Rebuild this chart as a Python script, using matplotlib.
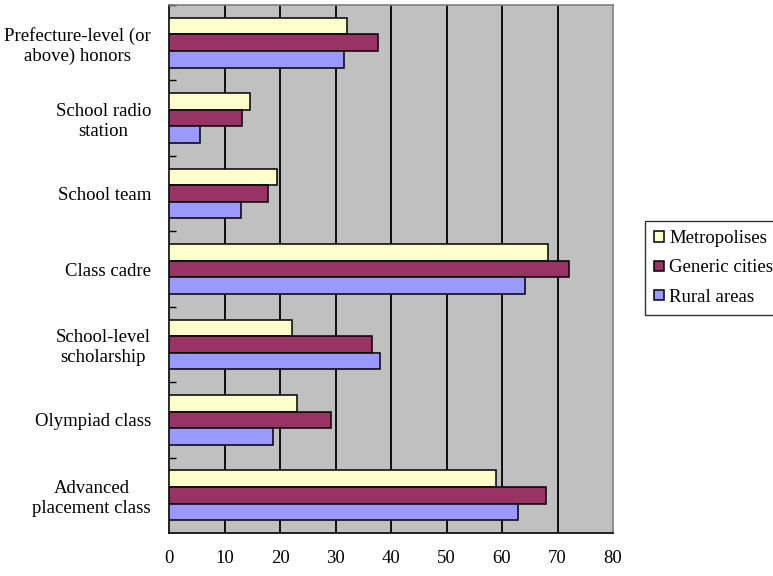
import numpy as np
import matplotlib
matplotlib.use('Agg')
import matplotlib.pyplot as plt

plt.rcParams['font.family'] = ['Liberation Serif', 'DejaVu Serif']

### data (percent)
categories = ['Prefecture-level (or\nabove) honors', 'School radio\nstation', 'School team',
              'Class cadre', 'School-level\nscholarship', 'Olympiad class',
              'Advanced\nplacement class']
metropolises = [32.0, 14.6, 19.5, 68.2, 22.2, 23.0, 58.9]
generic_cities = [37.7, 13.2, 17.8, 72.0, 36.5, 29.1, 67.9]
rural_areas = [31.6, 5.5, 12.9, 64.2, 38.0, 18.7, 62.8]
series_names = ['Metropolises', 'Generic cities', 'Rural areas']
xticks = [0, 10, 20, 30, 40, 50, 60, 70, 80]

colors = ['#FFFFCC', '#993366', '#9999FF']
fs = 13.5

fig = plt.figure(figsize=(7.73, 5.76), dpi=100)
ax = fig.add_axes([169/773, 43/576, 444/773, 528/576])
ax.set_facecolor('#C0C0C0')

n = len(categories)
y = np.arange(n)[::-1]   # first category on top
h = 0.22

for i, (vals, name) in enumerate(zip([metropolises, generic_cities, rural_areas], series_names)):
    ax.barh(y + (1 - i)*h, vals, height=h, color=colors[i], edgecolor='black',
            linewidth=1.1, label=name, zorder=3)

# vertical gridlines
for xv in xticks[1:-1]:
    ax.axvline(xv, color='black', linewidth=1.3, zorder=1)

ax.set_xlim(0, 80)
ax.set_ylim(-0.5, n - 0.5)
ax.set_xticks(xticks)
ax.tick_params(axis='x', length=0, pad=12.5, labelsize=fs)

ax.set_yticks(y)
ax.set_yticklabels(categories, multialignment='center')
ax.tick_params(axis='y', which='major', length=0, pad=13, labelsize=fs)
# category separators on the value axis
ax.set_yticks(np.arange(n) + 0.5, minor=True)
ax.tick_params(axis='y', which='minor', direction='in', length=5, width=1, color='black')

for side in ['left', 'bottom']:
    ax.spines[side].set_color('black')
    ax.spines[side].set_linewidth(1.2)
for side in ['top', 'right']:
    ax.spines[side].set_color('#808080')
    ax.spines[side].set_linewidth(1.2)

leg = fig.legend(loc='center left', bbox_to_anchor=(645/773, 1 - 268/576),
                 fontsize=fs, frameon=True, fancybox=False, handlelength=0.5,
                 handleheight=0.5, handletextpad=0.3, labelspacing=0.65,
                 borderpad=0.5, borderaxespad=0)
leg.get_frame().set_edgecolor('black')
leg.get_frame().set_linewidth(1.0)

fig.savefig('out.png', dpi=100)
